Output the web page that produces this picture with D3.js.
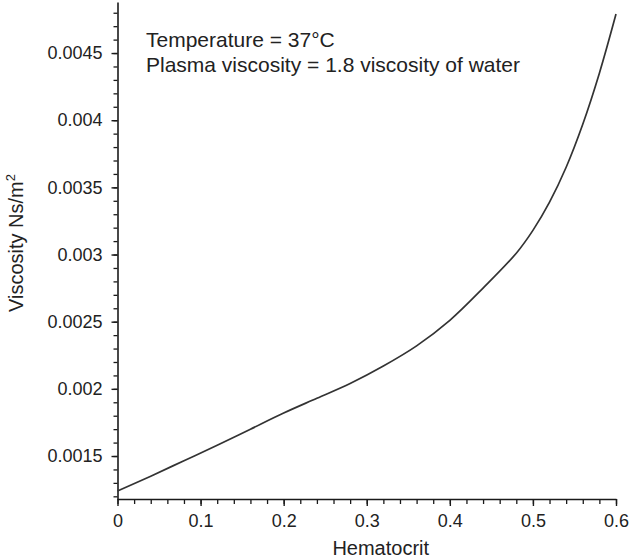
<!DOCTYPE html>
<html>
<head>
<meta charset="utf-8">
<script src="https://cdn.jsdelivr.net/npm/d3@7"></script>
<style>
  html, body { margin: 0; padding: 0; background: #fff; }
  svg { display: block; }
  text { font-family: "Liberation Sans", Arial, Helvetica, sans-serif; fill: #222; }
</style>
</head>
<body>
<svg id="chart" width="631" height="558"></svg>
<script>
// Data
const hematocrit = [0, 0.04, 0.08, 0.12, 0.16, 0.2, 0.24, 0.28, 0.32, 0.36, 0.4, 0.44, 0.48, 0.5, 0.52, 0.54, 0.56, 0.58, 0.6];
const viscosity  = [0.00124, 0.00135, 0.001465, 0.00158, 0.0017, 0.00182, 0.00193, 0.00204, 0.00217, 0.00232, 0.00251, 0.00275, 0.00301, 0.00318, 0.00339, 0.00365, 0.00397, 0.00435, 0.00479];

const xTickValues = [0, 0.1, 0.2, 0.3, 0.4, 0.5, 0.6];
const xTickLabels = ["0", "0.1", "0.2", "0.3", "0.4", "0.5", "0.6"];
const yTickValues = [0.0015, 0.002, 0.0025, 0.003, 0.0035, 0.004, 0.0045];
const yTickLabels = ["0.0015", "0.002", "0.0025", "0.003", "0.0035", "0.004", "0.0045"];
const annotationLines = ["Temperature = 37\u00B0C", "Plasma viscosity = 1.8 viscosity of water"];
const xTitle = "Hematocrit";

const svg = d3.select("#chart");

const x = d3.scaleLinear().domain([0, 0.6]).range([117.5, 616]);
const y = d3.scaleLinear().domain([0.00118, 0.00488]).range([499, 2]);

// minor ticks
const xMinor = d3.range(0, 0.6001, 0.02).map(v => +v.toFixed(2));
const yMinor = d3.range(12, 49, 1).map(v => +(v / 10000).toFixed(4));

const axisColor = "#1a1a1a";

// X axis minor
svg.append("g")
  .attr("transform", `translate(0,${y.range()[0]})`)
  .call(d3.axisBottom(x).tickValues(xMinor).tickSize(5).tickSizeOuter(0).tickFormat(""))
  .call(g => g.select(".domain").remove())
  .call(g => g.selectAll("line").attr("stroke", axisColor).attr("stroke-width", 1.3));

// Y axis minor
svg.append("g")
  .attr("transform", `translate(${x.range()[0]},0)`)
  .call(d3.axisLeft(y).tickValues(yMinor).tickSize(4).tickSizeOuter(0).tickFormat(""))
  .call(g => g.select(".domain").remove())
  .call(g => g.selectAll("line").attr("stroke", axisColor).attr("stroke-width", 1.3));

// X axis major
const gx = svg.append("g")
  .attr("transform", `translate(0,${y.range()[0]})`)
  .call(d3.axisBottom(x).tickValues(xTickValues).tickSize(7).tickSizeOuter(0).tickPadding(8)
    .tickFormat((d, i) => xTickLabels[i]));
gx.select(".domain").attr("stroke", axisColor).attr("stroke-width", 1.6);
gx.selectAll("line").attr("stroke", axisColor).attr("stroke-width", 1.4);
gx.selectAll("text").attr("font-size", 18).style("font-family", "'Liberation Sans', Arial, sans-serif").attr("fill", "#222");

// Y axis major
const gy = svg.append("g")
  .attr("transform", `translate(${x.range()[0]},0)`)
  .call(d3.axisLeft(y).tickValues(yTickValues).tickSize(6).tickSizeOuter(0).tickPadding(9)
    .tickFormat((d, i) => yTickLabels[i]));
gy.select(".domain").attr("stroke", axisColor).attr("stroke-width", 1.6);
gy.selectAll("line").attr("stroke", axisColor).attr("stroke-width", 1.4);
gy.selectAll("text").attr("font-size", 18).style("font-family", "'Liberation Sans', Arial, sans-serif").attr("fill", "#222");

// Curve
const pts = hematocrit.map((h, i) => [h, viscosity[i]]);
const line = d3.line()
  .x(d => x(d[0]))
  .y(d => y(d[1]))
  .curve(d3.curveCatmullRom.alpha(0.5));

svg.append("path")
  .datum(pts)
  .attr("d", line)
  .attr("fill", "none")
  .attr("stroke", "#333")
  .attr("stroke-width", 1.7);

// Annotation
const ann = svg.append("text")
  .attr("x", 146)
  .attr("y", 46.5)
  .attr("font-size", 21);
annotationLines.forEach((t, i) => {
  ann.append("tspan").attr("x", 146).attr("dy", i === 0 ? 0 : 25).text(t);
});

// X title
svg.append("text")
  .attr("x", x(0.3) + 14)
  .attr("y", 555)
  .attr("text-anchor", "middle")
  .attr("font-size", 20)
  .text(xTitle);

// Y title
const yt = svg.append("text")
  .attr("transform", `translate(22.5,${243}) rotate(-90)`)
  .attr("text-anchor", "middle")
  .attr("font-size", 20);
yt.append("tspan").text("Viscosity Ns/m");
yt.append("tspan").attr("font-size", 13).attr("dy", -8).text("2");
</script>
</body>
</html>
